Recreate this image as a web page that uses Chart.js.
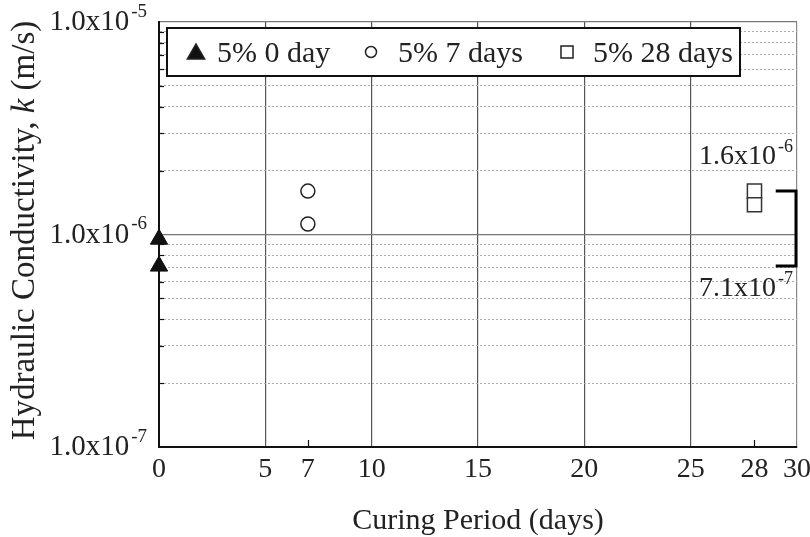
<!DOCTYPE html>
<html>
<head>
<meta charset="utf-8">
<script src="https://cdn.jsdelivr.net/npm/chart.js@4.4.1/dist/chart.umd.min.js"></script>
<style>
  html, body { margin: 0; padding: 0; background: #fff; }
  #wrap { width: 810px; height: 537px; }
</style>
</head>
<body>
<div id="wrap"><canvas id="chart"></canvas></div>
<script>
// measured k values per curing period (5% binder)
const curingDays0 = [0, 0];
const conductivity0 = [9.5e-7, 7.1e-7];
const curingDays7 = [7, 7];
const conductivity7 = [1.6e-6, 1.12e-6];
const curingDays28 = [28, 28];
const conductivity28 = [1.6e-6, 1.38e-6];
const seriesLabels = ['5% 0 day', '5% 7 days', '5% 28 days'];

const xTickValues = [0, 5, 7, 10, 15, 20, 25, 28, 30];
const xMinorTicks = [7, 28];
const yDecades = [-7, -6, -5];

// overall spread of results, shown as a bracket on the right
const rangeHigh = 1.6e-6;
const rangeLow = 7.1e-7;

const FONT = '"Liberation Serif", "Times New Roman", serif';
const INK = '#222';

const toPoints = (xs, ys) => xs.map((x, i) => ({ x: x, y: ys[i] }));

function isDecade(v) {
  const e = Math.log10(v);
  return Math.abs(e - Math.round(e)) < 1e-6;
}

// "m x10" with a raised exponent
function drawPow(ctx, mant, exp, x, y, size, align) {
  const base = mant + 'x10';
  const sup = String(exp);
  ctx.font = size + 'px ' + FONT;
  const w1 = ctx.measureText(base).width;
  ctx.font = Math.round(size * 0.66) + 'px ' + FONT;
  const w2 = ctx.measureText(sup).width;
  let left = x;
  if (align === 'right') left = x - w1 - w2 - 2;
  ctx.textAlign = 'left';
  ctx.textBaseline = 'alphabetic';
  ctx.fillStyle = INK;
  ctx.font = size + 'px ' + FONT;
  ctx.fillText(base, left, y);
  ctx.font = Math.round(size * 0.66) + 'px ' + FONT;
  ctx.fillText(sup, left + w1 + 2, y - size * 0.45);
}

const decorations = {
  id: 'decorations',
  afterDraw(chart) {
    const { ctx, chartArea: a, scales: { x: xs, y: ys } } = chart;
    ctx.save();

    // inward minor ticks on the k axis
    ctx.strokeStyle = '#111';
    ctx.lineWidth = 1.2;
    ys.ticks.forEach(t => {
      if (isDecade(t.value)) return;
      const py = Math.round(ys.getPixelForValue(t.value)) + 0.5;
      ctx.beginPath();
      ctx.moveTo(a.left, py);
      ctx.lineTo(a.left + 5, py);
      ctx.stroke();
    });
    // short ticks at 7 and 28 days
    xMinorTicks.forEach(d => {
      const px = Math.round(xs.getPixelForValue(d)) + 0.5;
      ctx.beginPath();
      ctx.moveTo(px, a.bottom);
      ctx.lineTo(px, a.bottom - 7);
      ctx.stroke();
    });

    // tick labels
    yDecades.forEach(e => {
      drawPow(ctx, '1.0', e, a.left - 12, ys.getPixelForValue(Math.pow(10, e)) + 8, 29, 'right');
    });
    ctx.font = '28px ' + FONT;
    ctx.fillStyle = INK;
    ctx.textAlign = 'center';
    ctx.textBaseline = 'alphabetic';
    xTickValues.forEach(d => {
      ctx.fillText(String(d), xs.getPixelForValue(d), a.bottom + 30);
    });

    // axis titles
    ctx.font = '30px ' + FONT;
    ctx.fillText('Curing Period (days)', (a.left + a.right) / 2, a.bottom + 82);

    const parts = [
      ['Hydraulic Conductivity, ', ''],
      ['k', 'italic '],
      [' (m/s)', '']
    ];
    const tSize = 33;
    let total = 0;
    parts.forEach(p => { ctx.font = p[1] + tSize + 'px ' + FONT; total += ctx.measureText(p[0]).width; });
    ctx.save();
    ctx.translate(34, (a.top + a.bottom) / 2 - 4);
    ctx.rotate(-Math.PI / 2);
    ctx.textAlign = 'left';
    let cx = -total / 2;
    parts.forEach(p => {
      ctx.font = p[1] + tSize + 'px ' + FONT;
      ctx.fillText(p[0], cx, 0);
      cx += ctx.measureText(p[0]).width;
    });
    ctx.restore();

    // bracket marking the full spread
    const yHi = ys.getPixelForValue(rangeHigh);
    const yLo = ys.getPixelForValue(rangeLow);
    const bx0 = xs.getPixelForValue(29);
    const bx1 = a.right - 1;
    ctx.strokeStyle = '#000';
    ctx.lineWidth = 3;
    ctx.beginPath();
    ctx.moveTo(bx0, yHi);
    ctx.lineTo(bx1, yHi);
    ctx.lineTo(bx1, yLo);
    ctx.lineTo(bx0, yLo);
    ctx.stroke();
    drawPow(ctx, '1.6', -6, a.right - 4, yHi - 27, 28, 'right');
    drawPow(ctx, '7.1', -7, a.right - 4, yLo + 30, 28, 'right');

    // legend box
    const lx = a.left + 8, ly = a.top + 6, lw = 573, lh = 48;
    ctx.fillStyle = '#fff';
    ctx.fillRect(lx, ly, lw, lh);
    ctx.strokeStyle = '#111';
    ctx.lineWidth = 2;
    ctx.strokeRect(lx, ly, lw, lh);
    const my = ly + lh / 2;
    const items = [
      { style: 'triangle', r: 10, fill: '#111', mx: lx + 29, tx: lx + 50 },
      { style: 'circle', r: 5.5, fill: '#fff', mx: lx + 204, tx: lx + 231 },
      { style: 'rect', r: 8.5, fill: '#fff', mx: lx + 400, tx: lx + 426 }
    ];
    items.forEach((it, i) => {
      ctx.fillStyle = it.fill;
      ctx.strokeStyle = '#222';
      ctx.lineWidth = 1.5;
      Chart.helpers.drawPoint(ctx, { pointStyle: it.style, radius: it.r, borderWidth: 1.5, rotation: 0 },
        it.mx, it.style === 'triangle' ? my + 2 : my);
      ctx.fillStyle = INK;
      ctx.font = '30px ' + FONT;
      ctx.textAlign = 'left';
      ctx.textBaseline = 'middle';
      ctx.fillText(seriesLabels[i], it.tx, my + 2);
    });

    ctx.restore();
  }
};

new Chart(document.getElementById('chart'), {
  type: 'scatter',
  data: {
    datasets: [
      {
        label: seriesLabels[0],
        data: toPoints(curingDays0, conductivity0),
        pointStyle: 'triangle',
        pointRadius: 10,
        backgroundColor: '#111',
        borderColor: '#111',
        borderWidth: 1,
        clip: false
      },
      {
        label: seriesLabels[1],
        data: toPoints(curingDays7, conductivity7),
        pointStyle: 'circle',
        pointRadius: 7,
        backgroundColor: '#fff',
        borderColor: '#222',
        borderWidth: 1.5,
        clip: false
      },
      {
        label: seriesLabels[2],
        data: toPoints(curingDays28, conductivity28),
        pointStyle: 'rect',
        pointRadius: 10,
        backgroundColor: '#fff',
        borderColor: '#333',
        borderWidth: 1.5,
        clip: false
      }
    ]
  },
  options: {
    responsive: true,
    maintainAspectRatio: false,
    animation: false,
    layout: { padding: { left: 159, right: 13, top: 22, bottom: 90 } },
    plugins: {
      legend: { display: false },
      tooltip: { enabled: false }
    },
    scales: {
      x: {
        type: 'linear',
        min: 0,
        max: 30,
        afterBuildTicks: scale => { scale.ticks = xTickValues.map(v => ({ value: v })); },
        ticks: { display: false },
        grid: {
          drawTicks: false,
          color: c => {
            const v = c.tick ? c.tick.value : null;
            if (v === 0 || xMinorTicks.includes(v)) return 'rgba(0,0,0,0)';
            return v === 30 ? '#888' : '#555';
          },
          lineWidth: 1.2
        },
        border: { color: '#111', width: 2 }
      },
      y: {
        type: 'logarithmic',
        min: 1e-7,
        max: 1e-5,
        afterBuildTicks: scale => {
          const t = [];
          [-7, -6].forEach(e => {
            for (let m = 1; m <= 9; m++) t.push({ value: m * Math.pow(10, e) });
          });
          t.push({ value: 1e-5 });
          scale.ticks = t;
        },
        ticks: { display: false },
        grid: {
          drawTicks: false,
          color: c => (c.tick && isDecade(c.tick.value)) ? '#777' : '#aaa',
          lineWidth: c => (c.tick && isDecade(c.tick.value)) ? 1.2 : 1
        },
        border: {
          color: '#111',
          width: 2,
          dash: c => (c.tick && !isDecade(c.tick.value)) ? [2, 2] : []
        }
      }
    }
  },
  plugins: [decorations]
});
</script>
</body>
</html>
